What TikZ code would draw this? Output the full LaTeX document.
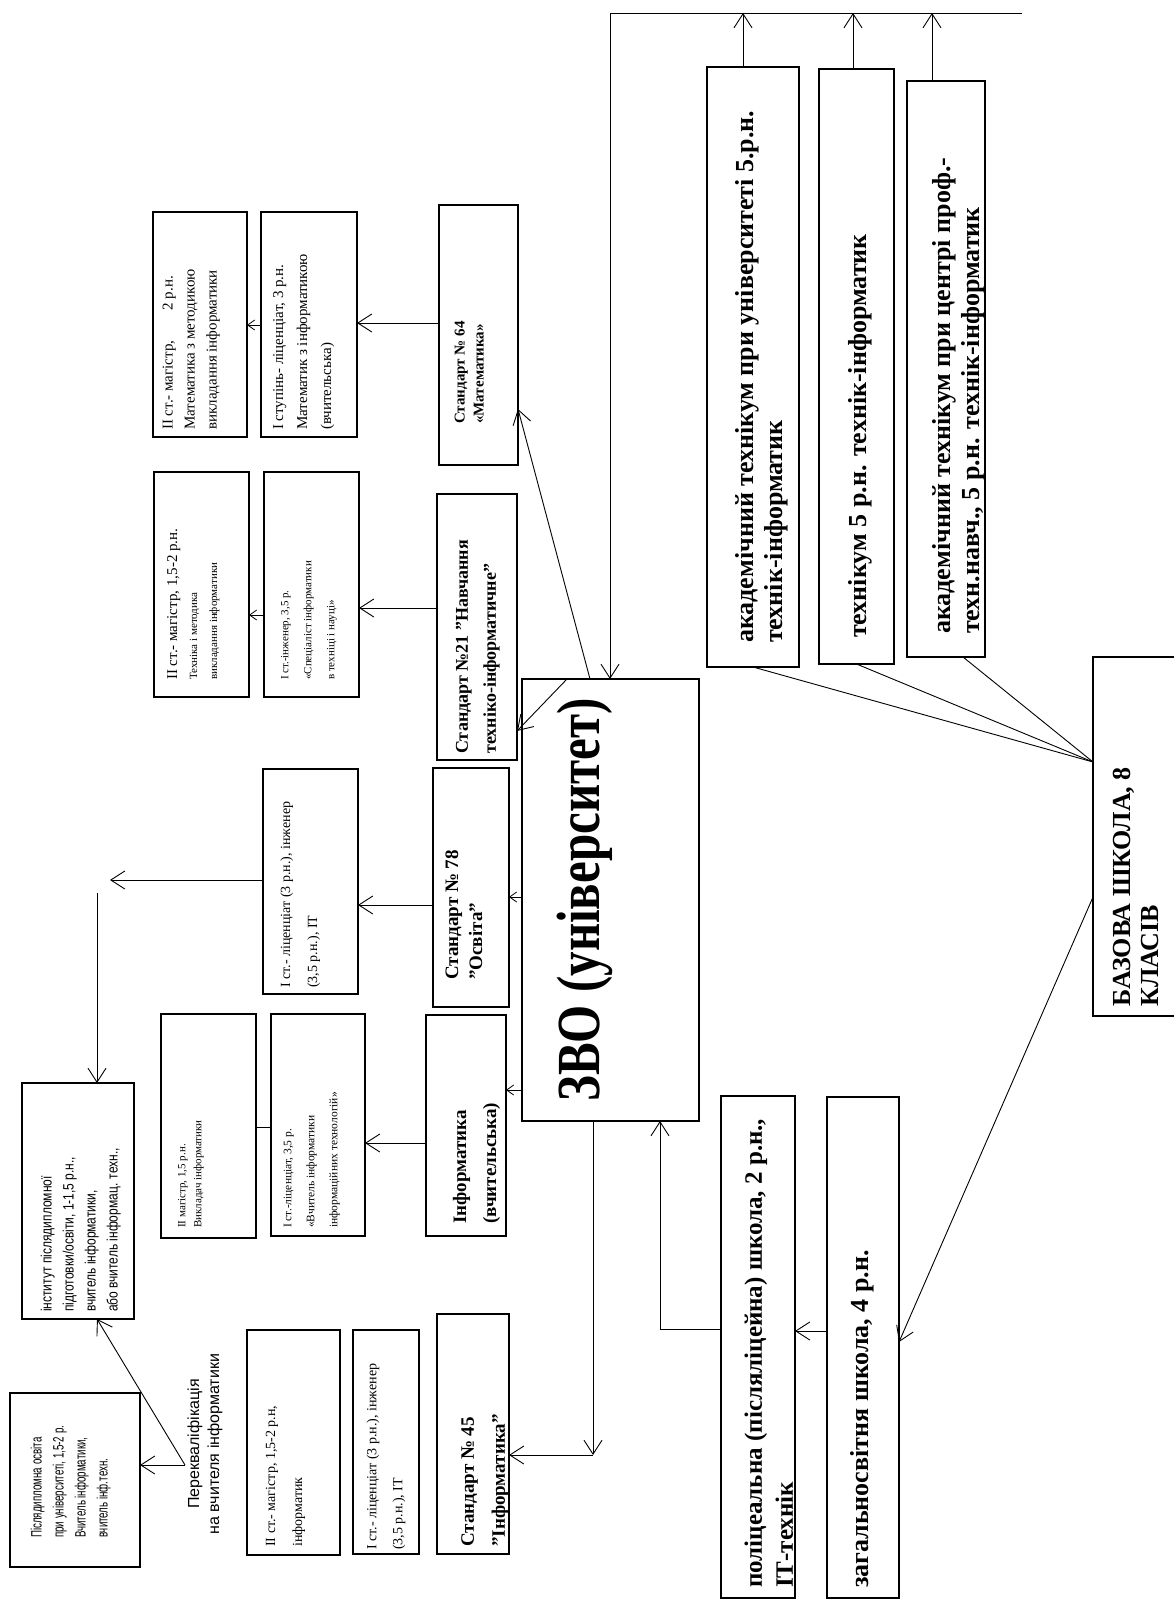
\documentclass[tikz,border=0pt]{standalone}
\usepackage{fontspec}
\usepackage{graphicx}
\setmainfont{Liberation Serif}
\newfontfamily\sansf{Liberation Sans}
\usetikzlibrary{arrows.meta}
\newcommand\mkbox[6][]{\node[box,#1,minimum width={(#5-#3)*1pt},minimum height={(#6-#4)*1pt}] (#2) at ({(#3+#5)/2},{(#4+#6)/2}) {};}
\newcommand\vtab[3][l]{\scalebox{#2}[1]{\begin{tabular}{@{}#1@{}}#3\end{tabular}}}
\newcommand\vtext[5][]{\node[vt,#1] (#2) at (#3,#4) {#5};}
\begin{document}
\begin{tikzpicture}[x=1pt,y=-1pt,
  box/.style={draw, line width=1.3pt, inner sep=0pt, outer sep=0pt},
  vt/.style={rotate=90, anchor=north west, inner sep=0pt},
  ln/.style={line width=0.9pt},
  arr/.style={line width=0.9pt, -{Straight Barb[length=14pt,width=18pt,line width=0.9pt]}},
  arrS/.style={line width=0.9pt, -{Straight Barb[length=7pt,width=10pt,line width=0.8pt]}},
  bigb/.style={font=\bfseries\fontsize{26}{29}\selectfont}
]
\fill[white] (0,0) rectangle (1174,1601);
\useasboundingbox (0,0) rectangle (1174,1601);

% ---------- boxes ----------
\mkbox{tA}{707}{67}{799}{667}
\mkbox{tB}{819}{69}{894}{664}
\mkbox{tC}{907}{81}{985}{657}
\mkbox{baz}{1093}{657}{1195}{1016}
\mkbox{zvo}{522}{679}{699}{1121}
\mkbox{pol}{721}{1096}{795}{1598}
\mkbox{zag}{827}{1097}{899}{1598}
\mkbox{s64}{439}{205}{518}{465}
\mkbox{s21}{437}{494}{517}{760}
\mkbox{s78}{433}{768}{509}{1007}
\mkbox{sinf}{426}{1015}{506}{1236}
\mkbox{s45}{437}{1314}{509}{1554}
\mkbox{m1}{261}{212}{357}{437}
\mkbox{m2}{153}{212}{247}{437}
\mkbox{e1}{264}{472}{359}{697}
\mkbox{e2}{154}{472}{249}{697}
\mkbox{l1}{263}{769}{358}{994}
\mkbox{v1}{271}{1014}{365}{1236}
\mkbox{v2}{161}{1014}{256}{1238}
\mkbox{b1}{353}{1330}{419}{1554}
\mkbox{b2}{247}{1330}{340}{1555}
\mkbox{p2}{22}{1083}{134}{1319}
\mkbox{p1}{10}{1393}{140}{1567}

% ---------- texts ----------
\vtext[bigb]{ttA}{733}{643}{\vtab{1}{академічний технікум при університеті 5.р.н.\\технік-інформатик}}
\vtext[bigb]{ttB}{846}{638}{\vtab{1}{технікум 5 р.н. технік-інформатик}}
\vtext[bigb]{ttC}{930}{634}{\vtab{1}{академічний технікум при центрі проф.-\\техн.навч., 5 р.н. технік-інформатик}}
\vtext[font=\bfseries\fontsize{26}{28}\selectfont]{tbaz}{1111}{1007}{\vtab{1}{БАЗОВА ШКОЛА, 8\\КЛАСІВ}}
\vtext[font=\bfseries\fontsize{25}{31}\selectfont]{tpol}{740}{1588}{\vtab{1}{поліцеальна (післяліцейна) школа, 2 р.н.,\\ІТ-технік}}
\vtext[bigb]{tzag}{848}{1588}{\vtab{1}{загальносвітня школа, 4 р.н.}}
\node[rotate=90, inner sep=0pt, font=\bfseries\fontsize{49}{55}\selectfont] (tzvo) at (585,900) {\scalebox{1}[1.25]{ЗВО (університет)}};

\vtext[font=\bfseries\fontsize{15}{19}\selectfont]{ts64}{451}{424}{\vtab{1}{Стандарт № 64\\«Математика»}}
\vtext[font=\bfseries\fontsize{18}{28}\selectfont]{ts21}{448}{754}{\vtab{1}{Стандарт №21 "Навчання\\техніко-інформатичне"}}
\vtext[font=\bfseries\fontsize{19}{24}\selectfont]{ts78}{441}{980}{\vtab{1}{Стандарт № 78\\"Освіта"}}
\vtext[font=\bfseries\fontsize{19}{30}\selectfont]{tsinf}{445}{1224}{\vtab{1}{Інформатика\\(вчительська)}}
\vtext[font=\bfseries\fontsize{19}{31}\selectfont]{ts45}{452}{1547}{\vtab{1}{Стандарт № 45\\"Інформатика"}}

\vtext[font=\fontsize{15}{24}\selectfont]{tm1}{266}{430}{\vtab{1}{I ступінь- ліценціат, 3 р.н.\\Математик з інформатикою\\(вчительська)}}
\vtext[font=\fontsize{15}{22}\selectfont]{tm2}{157}{430}{\vtab{1}{II ст.- магістр,\hspace{2em}2 р.н.\\Математика з методикою\\викладання інформатики}}
\vtext[font=\fontsize{11}{20}\selectfont]{te2}{163}{680}{\vtab{1}{{\fontsize{15}{20}\selectfont II ст.- магістр, 1,5-2 р.н.}\\Техніка і методика\\викладання інформатики}}
\vtext[font=\fontsize{11}{23}\selectfont]{te1}{272}{680}{\vtab{1}{I ст.-інженер, 3,5 р.\\«Спеціаліст інформатики\\в техніці і науці»}}
\vtext[font=\fontsize{14}{27}\selectfont]{tl1}{271}{988}{\vtab{1}{I ст.- ліценціат (3 р.н.), інженер\\(3,5 р.н.), ІТ}}
\vtext[font=\fontsize{11.5}{23}\selectfont]{tv1}{275}{1228}{\vtab{1}{I ст.-ліценціат, 3,5 р.\\«Вчитель інформатики\\інформаційних технологій»}}
\vtext[font=\fontsize{11}{16}\selectfont]{tv2}{174}{1228}{\vtab{1}{II магістр, 1,5 р.н.\\Викладач інформатики}}
\vtext[font=\fontsize{14}{27}\selectfont]{tb2}{256}{1547}{\vtab{1}{II ст.- магістр, 1,5-2 р.н,\\інформатик}}
\vtext[font=\fontsize{14}{26}\selectfont]{tb1}{358}{1550}{\vtab{1}{I ст.- ліценціат (3 р.н.), інженер\\(3,5 р.н.), ІТ}}
\node[rotate=90, inner sep=0pt, font=\sansf\fontsize{16}{20}\selectfont] (tq) at (205,1444) {\vtab[c]{1}{Перекваліфікація\\на вчителя інформатики}};
\vtext[font=\sansf\fontsize{15}{22}\selectfont]{tp1}{26}{1538}{\vtab{0.65}{Післядипломна освіта\\при університеті, 1,5-2 р.\\Вчитель інформатики,\\вчитель інф.техн.}}
\vtext[font=\sansf\fontsize{15}{22}\selectfont]{tp2}{36}{1312}{\vtab{0.8}{інститут післядипломної\\підготовки/освіти, 1-1,5 р.н.,\\вчитель інформатики,\\або вчитель інформац. техн.,}}

% ---------- connectors ----------
\coordinate (tl1) at (610,13);
\coordinate (tl2) at (1022,13);
\coordinate (ua) at (743,13);
\coordinate (ub) at (853,13);
\coordinate (uc) at (932,13);
\draw[ln] (tl2) -- (tl1);
\draw[arr] (tl1) -- (tl1 |- zvo.north);
\draw[arr] (tA.north -| ua) -- (ua);
\draw[arr] (tB.north -| ub) -- (ub);
\draw[arr] (tC.north -| uc) -- (uc);

\coordinate (bz) at (1093,762);
\draw[ln] (bz) -- (tA.south);
\draw[ln] (bz) -- (tB.south);
\draw[ln] (bz) -- ([xshift=17pt]tC.south);
\draw[arr] (baz.west |- 0,897) -- (zag.east |- 0,1342);

\draw[arr] (zag.west |- 0,1331) -- (pol.east |- 0,1331);
\coordinate (pz) at (660,1329);
\draw[arr] (pol.west |- pz) -- (pz) -- (pz |- zvo.south);
\coordinate (zd) at (593,1455);
\draw[arr] (zvo.south -| zd) -- (zd);
\draw[arr] (zd) -- (s45.east |- zd);

\draw[arrS] (zvo.west |- 0,897) -- (s78.east |- 0,897);
\draw[arrS] (zvo.west |- 0,1090) -- (sinf.east |- 0,1090);
\draw[arr] (zvo.north -| 567,0) -- (s21.east |- 0,731);
\draw[arr] (zvo.north -| 590,0) -- (s64.east |- 0,409);

\draw[arr] (s64.west |- 0,323) -- (m1.east |- 0,323);
\draw[arrS] (m1.west |- 0,325) -- (m2.east |- 0,325);
\draw[arr] (s21.west |- 0,608) -- (e1.east |- 0,608);
\draw[arrS] (e1.west |- 0,615) -- (e2.east |- 0,615);
\draw[arr] (s78.west |- 0,905) -- (l1.east |- 0,905);
\draw[arr] (sinf.west |- 0,1143) -- (v1.east |- 0,1143);
\draw[ln] (v1.west |- 0,1127) -- (v2.east |- 0,1127);

\coordinate (lc) at (110,880);
\coordinate (lp) at (97,893);
\draw[arr] (l1.west |- lc) -- (lc);
\draw[arr] (lp) -- (lp |- p2.north);

\coordinate (q) at (185,1465);
\draw[arr] (q) -- (p2.south -| 97,0);
\draw[arr] (q) -- (p1.east |- q);
\end{tikzpicture}
\end{document}
